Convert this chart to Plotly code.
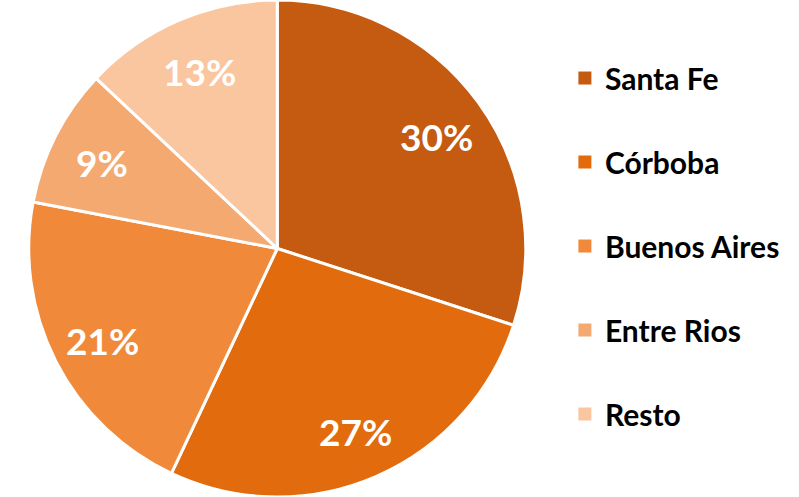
import math
import plotly.graph_objects as go

provinces = ['Santa Fe', 'Córboba', 'Buenos Aires', 'Entre Rios', 'Resto']
shares = [30, 27, 21, 9, 13]
colors = ['#C55A11', '#E26B0E', '#F0893A', '#F4A971', '#F9C6A0']

W, H = 799, 497
dom_x = [0.034, 0.66]
dom_y = [0, 1]

fig = go.Figure()
fig.add_trace(go.Pie(labels=provinces, values=shares, sort=False, direction='clockwise',
                     rotation=0, marker=dict(colors=colors, line=dict(color='white', width=3)),
                     textinfo='none', domain=dict(x=dom_x, y=dom_y), showlegend=False,
                     hoverinfo='label+percent'))

# percentage labels placed further out than plotly's inside text
cx = (dom_x[0] + dom_x[1]) / 2 * W
cy = (1 - (dom_y[0] + dom_y[1]) / 2) * H
r = min((dom_x[1] - dom_x[0]) * W, (dom_y[1] - dom_y[0]) * H) / 2
total = sum(shares)
cum = 0
for v in shares:
    ang = math.radians(360 * (cum + v / 2) / total)
    cum += v
    px = cx + 0.79 * r * math.sin(ang)
    py = cy - 0.79 * r * math.cos(ang) + 3
    fig.add_annotation(x=px / W, y=1 - py / H, xref='paper', yref='paper',
                       xanchor='center', yanchor='middle',
                       text='{:.0f}%'.format(100 * v / total), showarrow=False,
                       font=dict(family='Lato', size=37, color='white', weight='bold'))

# legend entries as separate groups so the spacing can match
for i in range(len(provinces)):
    fig.add_trace(go.Scatter(x=[None], y=[None], mode='markers', name=provinces[i],
                             legendgroup='g' + str(i),
                             marker=dict(symbol='square', size=13, color=colors[i])))

fig.update_layout(
    width=W, height=H,
    margin=dict(l=0, r=0, t=0, b=0),
    paper_bgcolor='white', plot_bgcolor='white',
    xaxis=dict(visible=False), yaxis=dict(visible=False),
    legend=dict(x=0.707, y=0.505, xanchor='left', yanchor='middle',
                font=dict(family='Lato', size=30, color='black', weight='bold'),
                tracegroupgap=42, bgcolor='rgba(0,0,0,0)'),
)
fig.write_html("out.html", config={'displayModeBar': False},
               post_script="document.body.style.margin='0px';")
